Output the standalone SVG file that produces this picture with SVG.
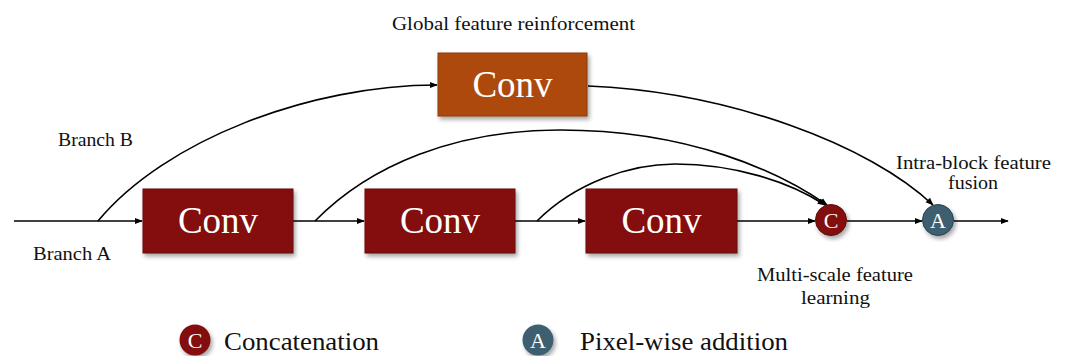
<svg xmlns="http://www.w3.org/2000/svg" width="1067" height="356" viewBox="0 0 1067 356">
<defs>
<style>
.lbl{font-family:"Liberation Serif","DejaVu Serif",serif;fill:#111;font-size:19px}
.leg{font-family:"Liberation Serif","DejaVu Serif",serif;fill:#111;font-size:26px}
.conv{font-family:"Liberation Serif","DejaVu Serif",serif;fill:#fff;font-size:37px;text-anchor:middle}
.ct{font-family:"Liberation Serif","DejaVu Serif",serif;fill:#fff;font-size:22px;text-anchor:middle}
.box{fill:#84100f;stroke:#6a0c0b;stroke-width:1}
.edge{fill:none;stroke:#000;stroke-width:1.6}
</style>
<marker id="ah" viewBox="0 0 10 10" refX="9" refY="5" markerWidth="8" markerHeight="8" markerUnits="userSpaceOnUse" orient="auto">
<path d="M0,1 L10,5 L0,9 z" fill="#000"/>
</marker>
<filter id="sh" x="-10%" y="-10%" width="125%" height="130%">
<feDropShadow dx="2" dy="3" stdDeviation="2" flood-color="#000" flood-opacity="0.35"/>
</filter>
</defs>
<rect width="1067" height="356" fill="#fff"/>
<g id="connectors">
<path class="edge" d="M14,221 L142,221" marker-end="url(#ah)"/>
<path class="edge" d="M293,221 L364,221" marker-end="url(#ah)"/>
<path class="edge" d="M515,221 L585,221" marker-end="url(#ah)"/>
<path class="edge" d="M737,221 L815,221" marker-end="url(#ah)"/>
<path class="edge" d="M847,221 L922,221" marker-end="url(#ah)"/>
<path class="edge" d="M954,221 L1008,221" marker-end="url(#ah)"/>
<path class="edge" d="M98,221 C165,140 310,85 437,85" marker-end="url(#ah)"/>
<path class="edge" d="M588,86 C730,92 870,145 933,205" marker-end="url(#ah)"/>
<path class="edge" d="M315,221 C370,165 455,130 560,130 C690,130 780,172 827,205" marker-end="url(#ah)"/>
<path class="edge" d="M537,221 C575,183 630,164 675,164 C735,164 790,182 825,205" marker-end="url(#ah)"/>
</g>
<g id="conv-global">
<rect x="438" y="53" width="149" height="63" fill="#ae4a0f" stroke="#8a3a0c" stroke-width="1" filter="url(#sh)"/>
<text class="conv" x="512.5" y="97">Conv</text>
</g>
<g id="conv1">
<rect class="box" x="143" y="189" width="150" height="64" filter="url(#sh)"/>
<text class="conv" x="218" y="233">Conv</text>
</g>
<g id="conv2">
<rect class="box" x="365" y="189" width="150" height="64" filter="url(#sh)"/>
<text class="conv" x="440" y="233">Conv</text>
</g>
<g id="conv3">
<rect class="box" x="586" y="189" width="151" height="64" filter="url(#sh)"/>
<text class="conv" x="661.5" y="233">Conv</text>
</g>
<g id="concat">
<circle cx="831" cy="220" r="15.5" fill="#84100f" stroke="#5a0a0a" stroke-width="1" filter="url(#sh)"/>
<text class="ct" x="831" y="227.5">C</text>
</g>
<g id="add">
<circle cx="938" cy="220" r="15.5" fill="#3d5f70" stroke="#2a4250" stroke-width="1" filter="url(#sh)"/>
<text class="ct" x="938" y="227.5">A</text>
</g>
<g id="labels">
<text class="lbl" x="392" y="30" textLength="243" lengthAdjust="spacingAndGlyphs">Global feature reinforcement</text>
<text class="lbl" x="58" y="146" textLength="75" lengthAdjust="spacingAndGlyphs">Branch B</text>
<text class="lbl" x="33" y="260" textLength="78" lengthAdjust="spacingAndGlyphs">Branch A</text>
<text class="lbl" x="896" y="169" textLength="155" lengthAdjust="spacingAndGlyphs">Intra-block feature</text>
<text class="lbl" x="948" y="189" textLength="50" lengthAdjust="spacingAndGlyphs">fusion</text>
<text class="lbl" x="757" y="281" textLength="156" lengthAdjust="spacingAndGlyphs">Multi-scale feature</text>
<text class="lbl" x="801" y="304" textLength="69" lengthAdjust="spacingAndGlyphs">learning</text>
</g>
<g id="legend">
<circle cx="195" cy="340" r="15.5" fill="#84100f" filter="url(#sh)"/>
<text class="ct" x="195" y="347.5">C</text>
<text class="leg" x="224" y="350" textLength="155" lengthAdjust="spacingAndGlyphs">Concatenation</text>
<circle cx="538" cy="340" r="15.5" fill="#3d5f70" filter="url(#sh)"/>
<text class="ct" x="538" y="347.5">A</text>
<text class="leg" x="580" y="350" textLength="208" lengthAdjust="spacingAndGlyphs">Pixel-wise addition</text>
</g>
</svg>
